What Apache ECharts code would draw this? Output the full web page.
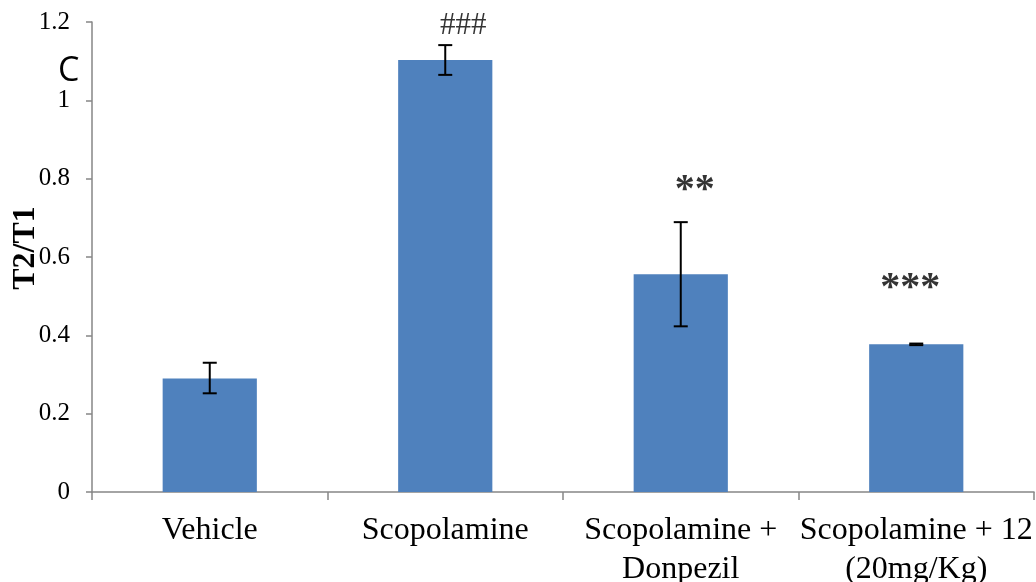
<!DOCTYPE html>
<html>
<head>
<meta charset="utf-8">
<script src="https://cdn.jsdelivr.net/npm/echarts@6/dist/echarts.min.js"></script>
<style>
html,body{margin:0;padding:0;background:#fff;}
#c{width:1036px;height:582px;}
</style>
</head>
<body>
<div id="c"></div>
<script>
const categories = ['Vehicle', 'Scopolamine', 'Scopolamine +\nDonpezil', 'Scopolamine + 12\n(20mg/Kg)'];
const means = [0.290, 1.103, 0.556, 0.377];
const errLow = [0.252, 1.065, 0.423, 0.375];
const errHigh = [0.330, 1.141, 0.689, 0.379];
const marks = ['', '###', '**', '***'];
const markY = [null, 1.19, 0.77, 0.52];
const yMin = 0, yMax = 1.2, yStep = 0.2;

const chart = echarts.init(document.getElementById('c'), null, {renderer: 'canvas'});
const axisColor = '#868686';
const serif = '"Liberation Serif", "Times New Roman", serif';
const markShift = [0, 18, 14, -6];

chart.setOption({
  animation: false,
  backgroundColor: '#ffffff',
  grid: {left: 92, right: 2, top: 22, bottom: 90, containLabel: false, outerBoundsMode: 'none'},
  xAxis: {
    type: 'category',
    data: categories,
    axisLine: {lineStyle: {color: axisColor, width: 1.5}},
    axisTick: {show: true, length: 8, lineStyle: {color: axisColor, width: 1.5}},
    axisLabel: {interval: 0, color: '#000', fontFamily: serif, fontSize: 32, lineHeight: 39, margin: 19}
  },
  yAxis: {
    type: 'value',
    min: yMin, max: yMax, interval: yStep,
    name: 'T2/T1',
    nameLocation: 'middle',
    nameGap: 50,
    nameMoveOverlap: false,
    nameTextStyle: {color: '#000', fontFamily: serif, fontSize: 32, fontWeight: 'bold', padding: [0, 0, 0, 18]},
    axisLine: {show: true, lineStyle: {color: axisColor, width: 1.5}},
    axisTick: {show: true, length: 6, lineStyle: {color: axisColor, width: 1.5}},
    splitLine: {show: false},
    axisLabel: {color: '#000', fontFamily: serif, fontSize: 25, margin: 22}
  },
  graphic: [{
    type: 'text', left: 58, top: 54,
    style: {text: 'C', font: '34px "Open Sans", sans-serif', fill: '#000'}
  }],
  series: [
    {
      type: 'bar',
      data: means,
      barWidth: '40%',
      itemStyle: {color: '#4F81BD'},
      z: 2
    },
    {
      type: 'custom',
      z: 5,
      data: categories.map((c, i) => [i, errLow[i], errHigh[i]]),
      renderItem: function (params, api) {
        const x = api.value(0);
        const lo = api.coord([x, api.value(1)]);
        const hi = api.coord([x, api.value(2)]);
        const hw = 7;
        const st = {stroke: '#000', lineWidth: 2};
        return {
          type: 'group',
          children: [
            {type: 'line', shape: {x1: lo[0], y1: lo[1], x2: hi[0], y2: hi[1]}, style: st},
            {type: 'line', shape: {x1: lo[0] - hw, y1: lo[1], x2: lo[0] + hw, y2: lo[1]}, style: st},
            {type: 'line', shape: {x1: hi[0] - hw, y1: hi[1], x2: hi[0] + hw, y2: hi[1]}, style: st}
          ]
        };
      }
    },
    {
      type: 'scatter',
      symbolSize: 0,
      z: 6,
      data: categories.map((c, i) => markY[i] == null ? '-' : {value: [i, markY[i]], label: {offset: [markShift[i], 0]}}),
      label: {
        show: true,
        position: 'inside',
        formatter: p => marks[p.dataIndex] === '###' ? '{h|###}' : '{a|' + marks[p.dataIndex] + '}',
        color: '#000',
        rich: {
          h: {fontFamily: serif, fontSize: 31, color: '#000'},
          a: {fontFamily: serif, fontSize: 40, fontWeight: 'bold', color: '#000'}
        }
      }
    }
  ]
});
</script>
</body>
</html>
